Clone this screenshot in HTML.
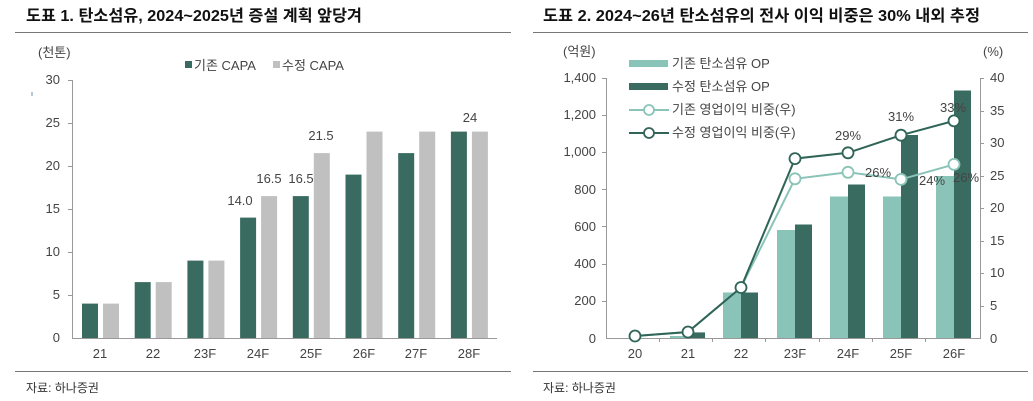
<!DOCTYPE html>
<html><head><meta charset="utf-8"><style>
body{margin:0;background:#fff;}
svg{display:block;font-family:"Liberation Sans","Noto Sans CJK KR",sans-serif;}
</style></head><body>
<svg width="1033" height="401" viewBox="0 0 1033 401" xmlns="http://www.w3.org/2000/svg">
<rect width="1033" height="401" fill="#fff"/>
<text x="26" y="21" font-size="16" font-weight="bold" fill="#111" textLength="336" lengthAdjust="spacingAndGlyphs">도표 1. 탄소섬유, 2024~2025년 증설 계획 앞당겨</text>
<text x="543" y="21" font-size="16" font-weight="bold" fill="#111" textLength="437" lengthAdjust="spacingAndGlyphs">도표 2. 2024~26년 탄소섬유의 전사 이익 비중은 30% 내외 추정</text>
<line x1="15" y1="32.5" x2="511" y2="32.5" stroke="#777" stroke-width="1"/>
<line x1="533" y1="32.5" x2="1028" y2="32.5" stroke="#777" stroke-width="1"/>
<line x1="15" y1="371.5" x2="511" y2="371.5" stroke="#777" stroke-width="1"/>
<line x1="533" y1="371.5" x2="1028" y2="371.5" stroke="#777" stroke-width="1"/>
<text x="26" y="392" font-size="12" fill="#333">자료: 하나증권</text>
<text x="543" y="392" font-size="12" fill="#333">자료: 하나증권</text>

<g font-size="13" fill="#444">
<text x="38" y="57">(천톤)</text>
<rect x="185" y="61" width="7" height="7" fill="#3a6b60"/>
<text x="194" y="70">기존 CAPA</text>
<rect x="273" y="61" width="7" height="7" fill="#c0c0c0"/>
<text x="282" y="70">수정 CAPA</text>
<g text-anchor="end">
<text x="60" y="84">30</text><text x="60" y="127">25</text><text x="60" y="170">20</text>
<text x="60" y="213">15</text><text x="60" y="256">10</text><text x="60" y="299">5</text><text x="60" y="342">0</text>
</g>
</g>
<line x1="32" y1="92" x2="32" y2="96" stroke="#6a8cb0"/>
<g stroke="#999" stroke-width="1">
<line x1="72.5" y1="80" x2="72.5" y2="338"/>
<line x1="72" y1="338.5" x2="497" y2="338.5"/>
<line x1="68" y1="80.5" x2="72" y2="80.5"/><line x1="68" y1="123.5" x2="72" y2="123.5"/>
<line x1="68" y1="166.5" x2="72" y2="166.5"/><line x1="68" y1="209.5" x2="72" y2="209.5"/>
<line x1="68" y1="252.5" x2="72" y2="252.5"/><line x1="68" y1="295.5" x2="72" y2="295.5"/>
</g>
<g fill="#3a6b60">
<rect x="82" y="303.6" width="16" height="34.4"/>
<rect x="134.7" y="282.1" width="16" height="55.9"/>
<rect x="187.4" y="260.6" width="16" height="77.4"/>
<rect x="240.1" y="217.6" width="16" height="120.4"/>
<rect x="292.8" y="196.1" width="16" height="141.9"/>
<rect x="345.5" y="174.6" width="16" height="163.4"/>
<rect x="398.2" y="153.1" width="16" height="184.9"/>
<rect x="450.9" y="131.6" width="16" height="206.4"/>
</g>
<g fill="#c0c0c0">
<rect x="103" y="303.6" width="16" height="34.4"/>
<rect x="155.7" y="282.1" width="16" height="55.9"/>
<rect x="208.4" y="260.6" width="16" height="77.4"/>
<rect x="261.1" y="196.1" width="16" height="141.9"/>
<rect x="313.8" y="153.1" width="16" height="184.9"/>
<rect x="366.5" y="131.6" width="16" height="206.4"/>
<rect x="419.2" y="131.6" width="16" height="206.4"/>
<rect x="471.9" y="131.6" width="16" height="206.4"/>
</g>
<g font-size="13" fill="#444" text-anchor="middle">
<text x="240" y="205">14.0</text>
<text x="269" y="183">16.5</text>
<text x="301" y="183">16.5</text>
<text x="321" y="140">21.5</text>
<text x="470" y="122">24</text>
<text x="100" y="358">21</text><text x="153" y="358">22</text><text x="205" y="358">23F</text>
<text x="258" y="358">24F</text><text x="311" y="358">25F</text><text x="364" y="358">26F</text>
<text x="416" y="358">27F</text><text x="469" y="358">28F</text>
</g>

<g font-size="13" fill="#444">
<text x="563" y="56">(억원)</text>
<text x="983" y="56">(%)</text>
<g text-anchor="end">
<text x="596" y="82">1,400</text><text x="596" y="119">1,200</text><text x="596" y="156">1,000</text>
<text x="596" y="194">800</text><text x="596" y="231">600</text><text x="596" y="268">400</text>
<text x="596" y="305">200</text><text x="596" y="343">0</text>
</g>
<text x="990" y="82">40</text><text x="990" y="115">35</text><text x="990" y="147">30</text>
<text x="990" y="180">25</text><text x="990" y="212">20</text><text x="990" y="245">15</text>
<text x="990" y="277">10</text><text x="990" y="310">5</text><text x="990" y="343">0</text>
</g>
<g stroke="#999" stroke-width="1">
<line x1="606.5" y1="78" x2="606.5" y2="338"/>
<line x1="980.5" y1="78" x2="980.5" y2="338"/>
<line x1="606" y1="338.5" x2="981" y2="338.5"/>
<line x1="602" y1="78.5" x2="606" y2="78.5"/><line x1="602" y1="115.5" x2="606" y2="115.5"/>
<line x1="602" y1="152.5" x2="606" y2="152.5"/><line x1="602" y1="189.5" x2="606" y2="189.5"/>
<line x1="602" y1="226.5" x2="606" y2="226.5"/><line x1="602" y1="264.5" x2="606" y2="264.5"/>
<line x1="602" y1="301.5" x2="606" y2="301.5"/>
<line x1="980" y1="78.5" x2="984" y2="78.5"/><line x1="980" y1="111.5" x2="984" y2="111.5"/>
<line x1="980" y1="143.5" x2="984" y2="143.5"/><line x1="980" y1="176.5" x2="984" y2="176.5"/>
<line x1="980" y1="208.5" x2="984" y2="208.5"/><line x1="980" y1="241.5" x2="984" y2="241.5"/>
<line x1="980" y1="273.5" x2="984" y2="273.5"/><line x1="980" y1="306.5" x2="984" y2="306.5"/>
<line x1="659.5" y1="338" x2="659.5" y2="342"/><line x1="712.5" y1="338" x2="712.5" y2="342"/>
<line x1="765.5" y1="338" x2="765.5" y2="342"/><line x1="819.5" y1="338" x2="819.5" y2="342"/>
<line x1="872.5" y1="338" x2="872.5" y2="342"/><line x1="925.5" y1="338" x2="925.5" y2="342"/>
</g>
<g fill="#8ac4b8">
<rect x="670" y="336" width="18" height="2"/>
<rect x="723" y="292.5" width="18" height="45.5"/>
<rect x="777" y="230" width="18" height="108"/>
<rect x="830" y="196.5" width="18" height="141.5"/>
<rect x="883" y="196.5" width="18" height="141.5"/>
<rect x="936" y="176" width="18" height="162"/>
</g>
<g fill="#3a6b60">
<rect x="688" y="332.4" width="17" height="5.6"/>
<rect x="741" y="292.5" width="17" height="45.5"/>
<rect x="795" y="224.5" width="17" height="113.5"/>
<rect x="848" y="184.5" width="17" height="153.5"/>
<rect x="901" y="135" width="17" height="203"/>
<rect x="954" y="90.5" width="17" height="247.5"/>
</g>
<polyline points="635,336 688,332 741,287.5 795,178.8 848,172.3 901,179.4 954,164.4" fill="none" stroke="#8ac4b8" stroke-width="2"/>
<polyline points="635,336 688,332 741,287.5 795,158.6 848,152.8 901,135.2 954,120.9" fill="none" stroke="#2f6457" stroke-width="2"/>
<g fill="#fff" stroke="#8ac4b8" stroke-width="1.8">
<circle cx="795" cy="178.8" r="5.5"/><circle cx="848" cy="172.3" r="5.5"/>
<circle cx="901" cy="179.4" r="5.5"/><circle cx="954" cy="164.4" r="5.5"/>
</g>
<g fill="#fff" stroke="#2f6457" stroke-width="1.8">
<circle cx="635" cy="336" r="5.5"/><circle cx="688" cy="332" r="5.5"/><circle cx="741" cy="287.5" r="5.5"/>
<circle cx="795" cy="158.6" r="5.5"/><circle cx="848" cy="152.8" r="5.5"/>
<circle cx="901" cy="135.2" r="5.5"/><circle cx="954" cy="120.9" r="5.5"/>
</g>
<g font-size="13" fill="#444" text-anchor="middle">
<text x="848" y="140">29%</text><text x="901" y="121">31%</text><text x="953" y="112">33%</text>
<text x="878" y="177">26%</text><text x="932" y="185">24%</text><text x="966" y="182">26%</text>
<text x="635" y="358">20</text><text x="688" y="358">21</text><text x="741" y="358">22</text>
<text x="795" y="358">23F</text><text x="848" y="358">24F</text><text x="901" y="358">25F</text><text x="954" y="358">26F</text>
</g>
<rect x="629" y="60" width="39" height="7" fill="#8ac4b8"/>
<rect x="629" y="83" width="39" height="7" fill="#3a6b60"/>
<line x1="629" y1="110" x2="669" y2="110" stroke="#8ac4b8" stroke-width="2"/>
<circle cx="649" cy="110" r="5" fill="#fff" stroke="#8ac4b8" stroke-width="1.8"/>
<line x1="629" y1="133" x2="669" y2="133" stroke="#2f6457" stroke-width="2"/>
<circle cx="649" cy="133" r="5" fill="#fff" stroke="#2f6457" stroke-width="1.8"/>
<g font-size="13" fill="#444">
<text x="672" y="68">기존 탄소섬유 OP</text>
<text x="672" y="91">수정 탄소섬유 OP</text>
<text x="672" y="114">기존 영업이익 비중(우)</text>
<text x="672" y="137">수정 영업이익 비중(우)</text>
</g>
</svg>
</body></html>
